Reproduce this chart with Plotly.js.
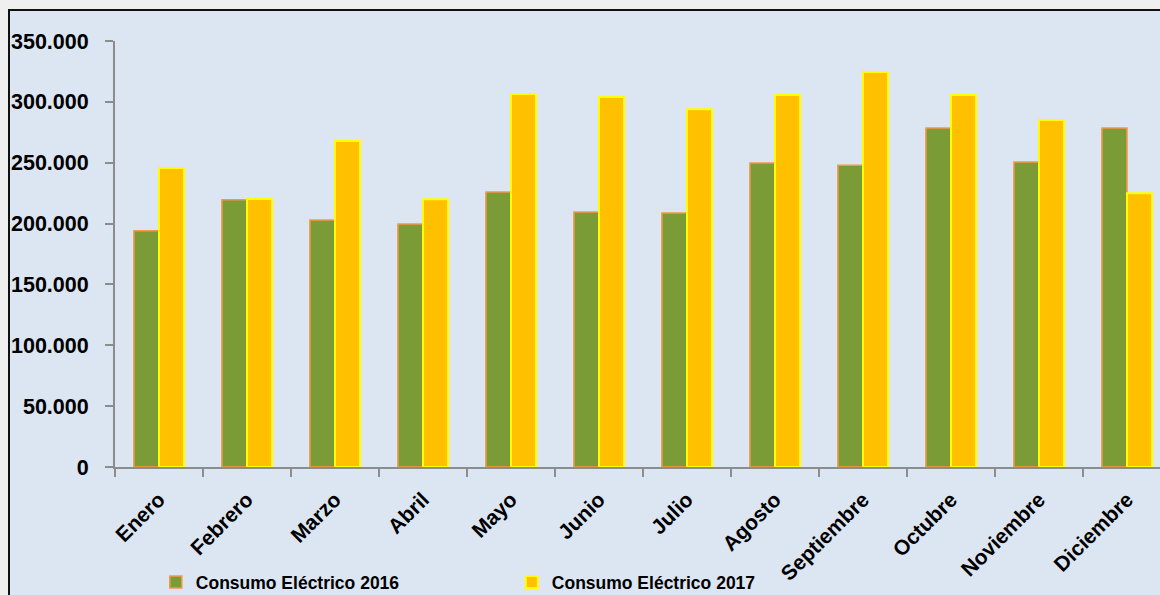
<!DOCTYPE html>
<html>
<head>
<meta charset="utf-8">
<script src="https://cdn.plot.ly/plotly-3.0.1.min.js"></script>
<style>
  html, body { margin: 0; padding: 0; background: #eeefee; overflow: hidden; width: 1160px; height: 595px; }
  #chart { position: absolute; left: 8px; top: 9px; width: 1160px; height: 600px;
           border-left: 2px solid #111; border-top: 2px solid #111; background: #dce6f2; }
</style>
</head>
<body>
<div id="chart"></div>
<script>
const months = ["Enero","Febrero","Marzo","Abril","Mayo","Junio","Julio","Agosto","Septiembre","Octubre","Noviembre","Diciembre"];
const consumo2016 = [194000, 219500, 203000, 199700, 226000, 209500, 208700, 249800, 248000, 278500, 250600, 278500];
const consumo2017 = [245700, 220200, 267900, 220000, 306500, 304000, 294000, 305600, 324500, 305600, 285000, 225000];
const yTicks = [0, 50000, 100000, 150000, 200000, 250000, 300000, 350000];
const series1Name = "Consumo Eléctrico 2016";
const series2Name = "Consumo Eléctrico 2017";

const FONT = "'Liberation Sans', Arial, sans-serif";

const traces = [
  {
    type: "bar", name: series1Name, x: months, y: consumo2016,
    marker: { color: "#7b9b37", line: { color: "#f79646", width: 1.5 } },
    hoverinfo: "x+y"
  },
  {
    type: "bar", name: series2Name, x: months, y: consumo2017,
    marker: { color: "#ffc000", line: { color: "#ffff00", width: 2 } },
    hoverinfo: "x+y"
  }
];

const layout = {
  width: 1160, height: 600,
  margin: { l: 105, r: 10, t: 30, b: 144 },
  paper_bgcolor: "#dce6f2",
  plot_bgcolor: "#dce6f2",
  separators: ",.",
  barmode: "group",
  bargap: 0.43,
  bargroupgap: 0,
  showlegend: true,
  legend: {
    orientation: "h",
    xref: "container", yref: "container",
    x: 0.1257, y: 0.048, xanchor: "left", yanchor: "middle",
    entrywidth: 311, entrywidthmode: "pixels",
    font: { family: FONT, size: 17.5, color: "#000", weight: "bold" },
    bgcolor: "rgba(0,0,0,0)", itemclick: false
  },
  xaxis: {
    type: "category",
    range: [-0.5, 11.375],
    showgrid: false, zeroline: false,
    showline: true, linecolor: "#8c8c8c", linewidth: 2,
    ticks: "outside", tickson: "boundaries", ticklen: 8, tickwidth: 2, tickcolor: "#8c8c8c",
    tickangle: -45,
    ticklabelstandoff: 10,
    tickfont: { family: FONT, size: 21, color: "#000", weight: "bold" }
  },
  yaxis: {
    range: [0, 350000],
    tickvals: yTicks,
    tickformat: ",d",
    showgrid: false, zeroline: false,
    showline: true, linecolor: "#8c8c8c", linewidth: 2,
    ticks: "outside", ticklen: 8, tickwidth: 2, tickcolor: "#8c8c8c",
    ticklabelstandoff: 12,
    tickfont: { family: FONT, size: 21.5, color: "#000", weight: "bold" }
  }
};

Plotly.newPlot("chart", traces, layout, { displayModeBar: false, staticPlot: false });
</script>
</body>
</html>
